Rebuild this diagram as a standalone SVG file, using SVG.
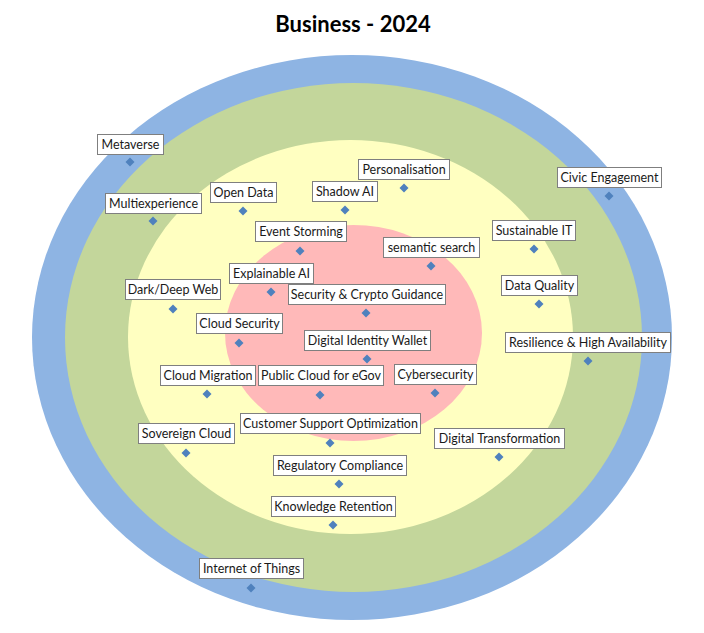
<svg xmlns="http://www.w3.org/2000/svg" xmlns:xlink="http://www.w3.org/1999/xlink" width="704" height="633" viewBox="0 0 704 633">
<style>
.box{fill:#ffffff;stroke:#7f7f7f;stroke-width:1}
.lbl{font-family:Lato,"Liberation Sans",sans-serif;font-size:12.5px;fill:#1a1a1a;text-anchor:middle}
.title{font-family:Lato,"Liberation Sans",sans-serif;font-size:22px;font-weight:bold;fill:#000;text-anchor:middle}
.dm{fill:#4f81bd}
</style>
<defs>
<path id="d" class="dm" d="M0,-4.5 L4.5,0 L0,4.5 L-4.5,0 Z"/>
</defs>
<rect width="704" height="633" fill="#ffffff"/>
<text class="title" x="353" y="32">Business - 2024</text>
<g id="rings">
<ellipse cx="352" cy="337.5" rx="320" ry="282.5" fill="#8eb4e3"/>
<ellipse cx="353.5" cy="337.5" rx="288.5" ry="254.5" fill="#c3d69b"/>
<ellipse cx="350.5" cy="337" rx="222.5" ry="197" fill="#ffffc1"/>
<ellipse cx="353.5" cy="333" rx="128.5" ry="108" fill="#ffb9b9"/>
</g>
<g id="connectors"></g>
<g id="n-metaverse"><rect class="box" x="97.5" y="134.5" width="66" height="20"/><text class="lbl" x="130.5" y="149">Metaverse</text><use xlink:href="#d" x="130" y="162"/></g>
<g id="n-multiexperience"><rect class="box" x="105.5" y="193.5" width="96" height="20"/><text class="lbl" x="153.5" y="208">Multiexperience</text><use xlink:href="#d" x="153" y="221"/></g>
<g id="n-opendata"><rect class="box" x="210.5" y="182.5" width="66" height="20"/><text class="lbl" x="243.5" y="197">Open Data</text><use xlink:href="#d" x="243" y="211"/></g>
<g id="n-shadowai"><rect class="box" x="312.5" y="181.5" width="65" height="20"/><text class="lbl" x="345" y="196">Shadow AI</text><use xlink:href="#d" x="345" y="210"/></g>
<g id="n-personalisation"><rect class="box" x="358.5" y="159.5" width="91" height="20"/><text class="lbl" x="404" y="174">Personalisation</text><use xlink:href="#d" x="404" y="188"/></g>
<g id="n-civic"><rect class="box" x="557.5" y="167.5" width="104" height="20"/><text class="lbl" x="609.5" y="182">Civic Engagement</text><use xlink:href="#d" x="609" y="196"/></g>
<g id="n-eventstorming"><rect class="box" x="255.5" y="221.5" width="91" height="20"/><text class="lbl" x="301" y="236">Event Storming</text><use xlink:href="#d" x="300" y="251"/></g>
<g id="n-sustainable"><rect class="box" x="492.5" y="220.5" width="83" height="20"/><text class="lbl" x="534" y="235">Sustainable IT</text><use xlink:href="#d" x="534" y="249"/></g>
<g id="n-semantic"><rect class="box" x="383.5" y="237.5" width="96" height="20"/><text class="lbl" x="431.5" y="252">semantic search</text><use xlink:href="#d" x="431" y="266"/></g>
<g id="n-explainable"><rect class="box" x="229.5" y="263.5" width="84" height="20"/><text class="lbl" x="271.5" y="278">Explainable AI</text><use xlink:href="#d" x="271" y="292"/></g>
<g id="n-darkweb"><rect class="box" x="125.5" y="279.5" width="95" height="20"/><text class="lbl" x="173" y="294">Dark/Deep Web</text><use xlink:href="#d" x="173" y="309"/></g>
<g id="n-dataquality"><rect class="box" x="501.5" y="275.5" width="76" height="20"/><text class="lbl" x="539.5" y="290">Data Quality</text><use xlink:href="#d" x="539" y="304"/></g>
<g id="n-security"><rect class="box" x="288.5" y="284.5" width="157" height="20"/><text class="lbl" x="367" y="299">Security &amp; Crypto Guidance</text><use xlink:href="#d" x="366" y="313"/></g>
<g id="n-cloudsecurity"><rect class="box" x="196.5" y="313.5" width="86" height="20"/><text class="lbl" x="239.5" y="328">Cloud Security</text><use xlink:href="#d" x="239" y="343"/></g>
<g id="n-digitalid"><rect class="box" x="304.5" y="330.5" width="126" height="20"/><text class="lbl" x="367.5" y="345">Digital Identity Wallet</text><use xlink:href="#d" x="367" y="359"/></g>
<g id="n-resilience"><rect class="box" x="505.5" y="332.5" width="165" height="20"/><text class="lbl" x="588" y="347">Resilience &amp; High Availability</text><use xlink:href="#d" x="588" y="361"/></g>
<g id="n-cloudmigration"><rect class="box" x="160.5" y="365.5" width="95" height="20"/><text class="lbl" x="208" y="380">Cloud Migration</text><use xlink:href="#d" x="207" y="394"/></g>
<g id="n-publiccloud"><rect class="box" x="258.5" y="365.5" width="125" height="20"/><text class="lbl" x="321" y="380">Public Cloud for eGov</text><use xlink:href="#d" x="320" y="395"/></g>
<g id="n-cybersecurity"><rect class="box" x="394.5" y="364.5" width="82" height="20"/><text class="lbl" x="435.5" y="379">Cybersecurity</text><use xlink:href="#d" x="435" y="393"/></g>
<g id="n-customer"><rect class="box" x="240.5" y="413.5" width="180" height="20"/><text class="lbl" x="330.5" y="428">Customer Support Optimization</text><use xlink:href="#d" x="330" y="443"/></g>
<g id="n-sovereign"><rect class="box" x="138.5" y="423.5" width="96" height="20"/><text class="lbl" x="186.5" y="438">Sovereign Cloud</text><use xlink:href="#d" x="186" y="453"/></g>
<g id="n-digitaltransformation"><rect class="box" x="434.5" y="428.5" width="130" height="20"/><text class="lbl" x="499.5" y="443">Digital Transformation</text><use xlink:href="#d" x="499" y="457"/></g>
<g id="n-regulatory"><rect class="box" x="273.5" y="455.5" width="133" height="20"/><text class="lbl" x="340" y="470">Regulatory Compliance</text><use xlink:href="#d" x="339" y="484"/></g>
<g id="n-knowledge"><rect class="box" x="271.5" y="496.5" width="124" height="20"/><text class="lbl" x="333.5" y="511">Knowledge Retention</text><use xlink:href="#d" x="333" y="525"/></g>
<g id="n-iot"><rect class="box" x="199.5" y="558.5" width="104" height="20"/><text class="lbl" x="251.5" y="573">Internet of Things</text><use xlink:href="#d" x="251" y="588"/></g>
</svg>
